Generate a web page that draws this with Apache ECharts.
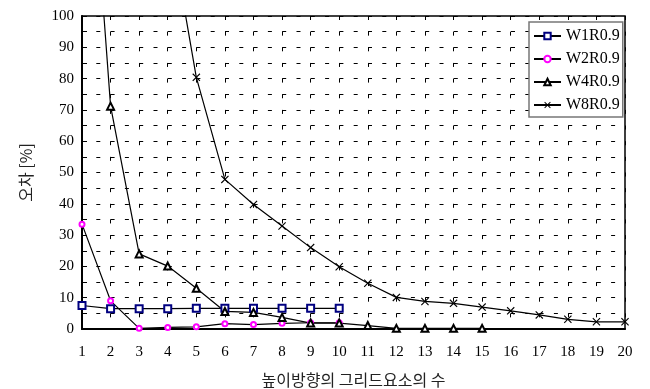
<!DOCTYPE html>
<html>
<head>
<meta charset="utf-8">
<script src="https://cdn.jsdelivr.net/npm/echarts@6/dist/echarts.min.js"></script>
<style>
html, body { margin: 0; padding: 0; background: #fff; }
#main { width: 650px; height: 389px; }
</style>
</head>
<body>
<div id="main"></div>
<script>
// 데이터
var categories = ['1','2','3','4','5','6','7','8','9','10','11','12','13','14','15','16','17','18','19','20'];
var w1 = [7.5, 6.5, 6.5, 6.5, 6.6, 6.6, 6.6, 6.6, 6.6, 6.6];
var w2 = [33.5, 9.0, 0.2, 0.5, 0.7, 1.7, 1.4, 1.8, 2.0, 2.0];
var w4 = [195, 71.2, 24.0, 20.1, 13.0, 5.6, 5.3, 3.7, 1.9, 1.9, 1.1, 0.2, 0.2, 0.2, 0.2];
var w8 = [null, null, null, 133, 80.4, 47.8, 39.8, 32.9, 26.0, 19.9, 14.6, 10.1, 8.8, 8.2, 7.0, 5.8, 4.5, 3.1, 2.3, 2.3];
var seriesNames = ['W1R0.9', 'W2R0.9', 'W4R0.9', 'W8R0.9'];

var serif = '"Liberation Serif", "Times New Roman", serif';
var korean = '"Noto Sans CJK KR", sans-serif';
// x 모양 마커
var crossPath = 'path://M0,1L1,0L5,4L9,0L10,1L6,5L10,9L9,10L5,6L1,10L0,9L4,5Z';

var myChart = echarts.init(document.getElementById('main'));

var option = {
	animation : false,
	backgroundColor : '#fff',
	grid : {
		left : 82,
		right : 25,
		top : 16,
		bottom : 60,
		outerBoundsMode : 'none',
		show : true,
		borderColor : '#000',
		borderWidth : 1.5
	},
	legend : {
		orient : 'vertical',
		left : 529,
		top : 22,
		data : seriesNames,
		itemWidth : 27,
		itemHeight : 8,
		itemGap : 5,
		padding : [5, 3, 3, 4],
		backgroundColor : '#fff',
		borderColor : '#777',
		borderWidth : 1.5,
		borderRadius : 0,
		textStyle : {
			fontFamily : serif,
			fontSize : 16,
			lineHeight : 18,
			color : '#000'
		}
	},
	xAxis : {
		type : 'category',
		boundaryGap : false,
		data : categories,
		name : '높이방향의 그리드요소의 수',
		nameLocation : 'middle',
		nameGap : 43,
		nameTextStyle : {
			fontFamily : korean,
			fontSize : 16,
			color : '#222'
		},
		axisLine : { lineStyle : { color : '#000', width : 2 } },
		axisTick : { show : false },
		axisLabel : {
			margin : 16,
			fontFamily : serif,
			fontSize : 15,
			color : '#000'
		},
		splitLine : {
			show : true,
			lineStyle : { color : '#000', width : 1, type : [4, 11.65] }
		}
	},
	yAxis : {
		type : 'value',
		min : 0,
		max : 100,
		interval : 5,
		name : '오차 [%]',
		nameLocation : 'middle',
		nameGap : 48,
		nameTextStyle : {
			fontFamily : korean,
			fontSize : 16,
			color : '#222'
		},
		axisLine : { show : true, lineStyle : { color : '#000', width : 2 } },
		axisTick : { show : true, inside : true, length : 5, lineStyle : { color : '#000' } },
		axisLabel : {
			margin : 8,
			fontFamily : serif,
			fontSize : 15,
			color : '#000',
			formatter : function(v) {
				return v % 10 === 0 ? v : '';
			}
		},
		splitLine : {
			show : true,
			lineStyle : { color : '#000', width : 1, type : [4, 10.3] }
		}
	},
	series : [
		{
			name : seriesNames[0],
			type : 'line',
			data : w1,
			symbol : 'emptyRect',
			symbolSize : 7,
			clip : true,
			itemStyle : { color : '#000080', borderWidth : 1.2 },
			lineStyle : { color : '#000', width : 1.2 }
		},
		{
			name : seriesNames[1],
			type : 'line',
			data : w2,
			symbol : 'emptyCircle',
			symbolSize : 5,
			clip : true,
			itemStyle : { color : '#ff00ff', borderWidth : 1.5 },
			lineStyle : { color : '#000', width : 1.2 }
		},
		{
			name : seriesNames[2],
			type : 'line',
			data : w4,
			symbol : 'emptyTriangle',
			symbolSize : 7,
			clip : true,
			itemStyle : { color : '#000', borderWidth : 1.1 },
			lineStyle : { color : '#000', width : 1.2 }
		},
		{
			name : seriesNames[3],
			type : 'line',
			data : w8,
			symbol : crossPath,
			symbolSize : 8,
			clip : true,
			itemStyle : { color : '#000' },
			lineStyle : { color : '#000', width : 1.2 }
		}
	]
};

myChart.setOption(option);
window.onresize = myChart.resize;
</script>
</body>
</html>
